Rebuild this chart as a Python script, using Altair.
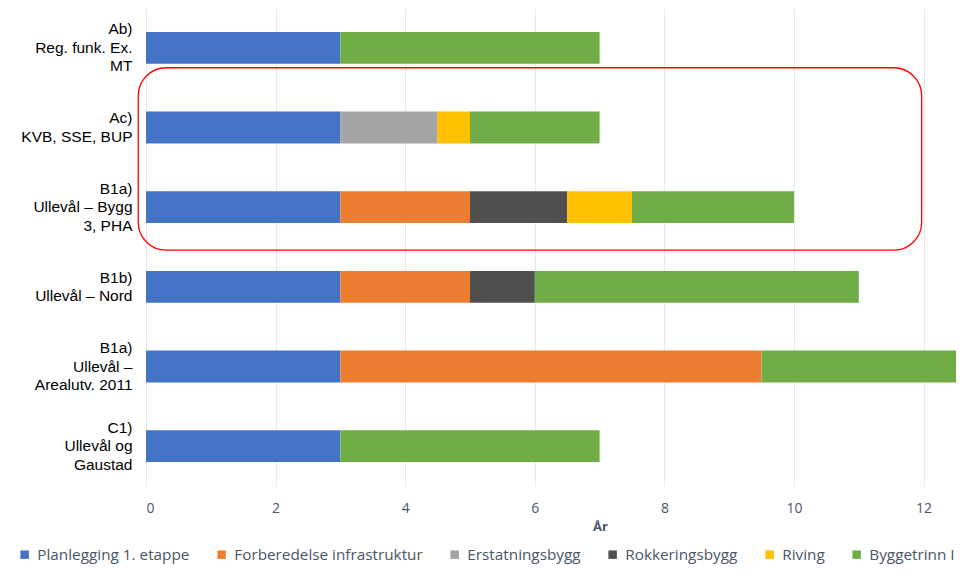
import altair as alt
import pandas as pd

categories = [
    "Ab)|Reg. funk. Ex.|MT",
    "Ac)|KVB, SSE, BUP",
    "B1a)|Ullevål – Bygg|3, PHA",
    "B1b)|Ullevål – Nord",
    "B1a)|Ullevål –|Arealutv. 2011",
    "C1)|Ullevål og|Gaustad",
]
series_names = [
    "Planlegging 1. etappe",
    "Forberedelse infrastruktur",
    "Erstatningsbygg",
    "Rokkeringsbygg",
    "Riving",
    "Byggetrinn I",
]
planlegging = [3, 3, 3, 3, 3, 3]
forberedelse = [0, 0, 2, 2, 6.5, 0]
erstatning = [0, 1.5, 0, 0, 0, 0]
rokkering = [0, 0, 1.5, 1, 0, 0]
riving = [0, 0.5, 1, 0, 0, 0]
byggetrinn = [4, 2, 2.5, 5, 3, 4]
colors = ["#4472C4", "#ED7D31", "#A5A5A5", "#505050", "#FFC000", "#70AD47"]
x_ticks = [0, 2, 4, 6, 8, 10, 12]

# highlight box around rows Ac) and B1a) (in x units and row units)
box_x = [-0.12, 11.97]
box_y = [0.75, 3.04]

series_values = [planlegging, forberedelse, erstatning, rokkering, riving, byggetrinn]
rows = []
for si, (name, vals) in enumerate(zip(series_names, series_values)):
    for ci, cat in enumerate(categories):
        if vals[ci] > 0:
            rows.append({"cat": cat, "series": name, "dur": vals[ci], "ord": si})
df = pd.DataFrame(rows)

box_df = pd.DataFrame([{"x0": box_x[0], "x1": box_x[1], "y0": box_y[0], "y1": box_y[1]}])

text_color = "#4A5568"
line_h = 18.5

bars = alt.Chart(df).mark_bar().encode(
    y=alt.Y(
        "cat:N",
        sort=categories,
        title=None,
        scale=alt.Scale(paddingInner=0.6, paddingOuter=0.3),
        axis=alt.Axis(
            labelExpr="split(datum.label, '|')",
            labelAlign="right",
            labelBaseline="middle",
            labelFont="Liberation Sans",
            labelFontSize=15.5,
            labelLineHeight=line_h,
            labelColor="#000000",
            labelPadding=14,
            labelLimit=0,
            labelOffset=alt.condition(
                "length(split(datum.label, '|')) == 3",
                alt.value(-line_h),
                alt.value(-line_h / 2),
            ),
            ticks=False,
            domain=False,
            grid=False,
        ),
    ),
    x=alt.X(
        "dur:Q",
        stack="zero",
        title="År",
        scale=alt.Scale(domain=[0, 12.5], nice=False),
        axis=alt.Axis(
            values=x_ticks,
            format="d",
            ticks=False,
            domain=False,
            grid=True,
            gridColor="#E9E9E9",
            labelFont="Open Sans",
            labelFontSize=14,
            labelColor=text_color,
            labelPadding=15,
            titleFont="Open Sans",
            titleFontSize=13,
            titleFontWeight="bold",
            titleColor=text_color,
            titlePadding=5,
            titleX=454,
            titleAnchor="middle",
        ),
    ),
    color=alt.Color(
        "series:N",
        scale=alt.Scale(domain=series_names, range=colors),
        legend=alt.Legend(
            title=None,
            orient="none",
            direction="horizontal",
            legendX=-129,
            legendY=539,
            symbolType="square",
            symbolSize=72,
            symbolStrokeWidth=0,
            labelFont="Open Sans",
            labelFontSize=15.3,
            labelColor=text_color,
            labelOffset=5,
            labelLimit=0,
            columnPadding=24,
            columns=6,
        ),
    ),
    order=alt.Order("ord:Q"),
)

box = alt.Chart(box_df).mark_rect(
    fillOpacity=0, stroke="#FF0000", strokeWidth=1.3, cornerRadius=28
).encode(
    x="x0:Q",
    x2="x1:Q",
    y=alt.Y("y0:Q", scale=alt.Scale(domain=[0, 6], reverse=True, nice=False, zero=False), axis=None),
    y2="y1:Q",
)

chart = alt.layer(bars, box).resolve_scale(y="independent").properties(
    width=810,
    height=478,
    autosize=alt.AutoSizeParams(type="none"),
    padding={"left": 138, "top": 0, "right": 0, "bottom": 78},
).configure_view(stroke=None)

chart.save("out.html", embed_options={"renderer": "svg", "actions": False})
